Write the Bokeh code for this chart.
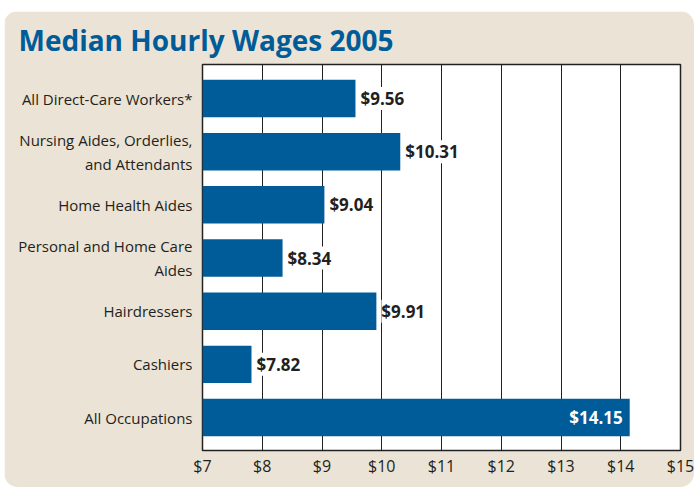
from bokeh.plotting import figure
from bokeh.models import (ColumnDataSource, Range1d, FixedTicker, LabelSet,
                          InlineStyleSheet, PrintfTickFormatter)
from bokeh.core.properties import value
from bokeh.embed import file_html
from bokeh.resources import INLINE

# ---- data ----
categories = [
    "All Direct-Care Workers*",
    "Nursing Aides, Orderlies,\nand Attendants",
    "Home Health Aides",
    "Personal and Home Care\nAides",
    "Hairdressers",
    "Cashiers",
    "All Occupations",
]
wages = [9.56, 10.31, 9.04, 8.34, 9.91, 7.82, 14.15]
value_labels = ["$9.56", "$10.31", "$9.04", "$8.34", "$9.91", "$7.82", "$14.15"]
x_ticks = [7, 8, 9, 10, 11, 12, 13, 14, 15]
title_text = "Median Hourly Wages 2005"

BLUE = "#005C99"
BEIGE = "#EBE3D5"
TEXT = "#231F20"
FONT = "Open Sans"

pos = list(range(len(categories)))

p = figure(width=690, height=476, output_backend="svg", toolbar_location=None,
           x_range=Range1d(7, 15), y_range=Range1d(6.62, -0.64),
           min_border_left=198, min_border_right=14, min_border_top=53,
           min_border_bottom=37, title=title_text)
p.margin = (11, 0, 0, 4)
p.stylesheets = [InlineStyleSheet(css=":host { border-radius: 14px; overflow: hidden; }")]
p.border_fill_color = BEIGE
p.background_fill_color = "white"
p.outline_line_color = "#222222"
p.outline_line_width = 1.5

p.title.text_font = FONT
p.title.text_font_style = "bold"
p.title.text_font_size = "28px"
p.title.text_color = BLUE
p.title.align = "left"
p.title.offset = -184
p.title.standoff = 12

src = ColumnDataSource(dict(y=pos, right=wages, cat=categories))
p.hbar(y="y", left=7, right="right", height=0.705, source=src,
       fill_color=BLUE, line_color=None)

# grid
p.ygrid.grid_line_color = None
p.xgrid.ticker = FixedTicker(ticks=x_ticks)
p.xgrid.grid_line_color = "#222222"
p.xgrid.grid_line_width = 1
p.xgrid.level = "underlay"

# x axis
xa = p.xaxis[0]
xa.ticker = FixedTicker(ticks=x_ticks)
xa.formatter = PrintfTickFormatter(format="$%d")
xa.axis_line_color = None
xa.major_tick_line_color = None
xa.minor_tick_line_color = None
xa.major_tick_out = 0
xa.major_tick_in = 0
xa.major_label_standoff = 4
xa.major_label_text_font = FONT
xa.major_label_text_font_size = "16px"
xa.major_label_text_color = TEXT

# y axis
ya = p.yaxis[0]
ya.ticker = FixedTicker(ticks=pos)
ya.major_label_overrides = {i: c for i, c in zip(pos, categories)}
ya.axis_line_color = None
ya.major_tick_line_color = None
ya.minor_tick_line_color = None
ya.major_tick_out = 0
ya.major_tick_in = 0
ya.major_label_standoff = 10
ya.major_label_text_font = FONT
ya.major_label_text_font_size = "15px"
ya.major_label_text_color = TEXT

# value labels
out_idx = [i for i, w in enumerate(wages) if w < 13]
in_idx = [i for i, w in enumerate(wages) if w >= 13]
src_out = ColumnDataSource(dict(x=[wages[i] for i in out_idx], y=[pos[i] for i in out_idx],
                                t=[value_labels[i] for i in out_idx]))
src_in = ColumnDataSource(dict(x=[wages[i] for i in in_idx], y=[pos[i] for i in in_idx],
                               t=[value_labels[i] for i in in_idx]))
p.add_layout(LabelSet(x="x", y="y", text="t", source=src_out, x_offset=5,
                      text_align="left", text_baseline="middle",
                      text_font=value(FONT), text_font_style="bold", text_font_size="17px",
                      text_color=TEXT, background_fill_color="white"))
p.add_layout(LabelSet(x="x", y="y", text="t", source=src_in, x_offset=-7,
                      text_align="right", text_baseline="middle",
                      text_font=value(FONT), text_font_style="bold", text_font_size="17px",
                      text_color="white"))

open("out.html", "w").write(file_html(p, INLINE))
